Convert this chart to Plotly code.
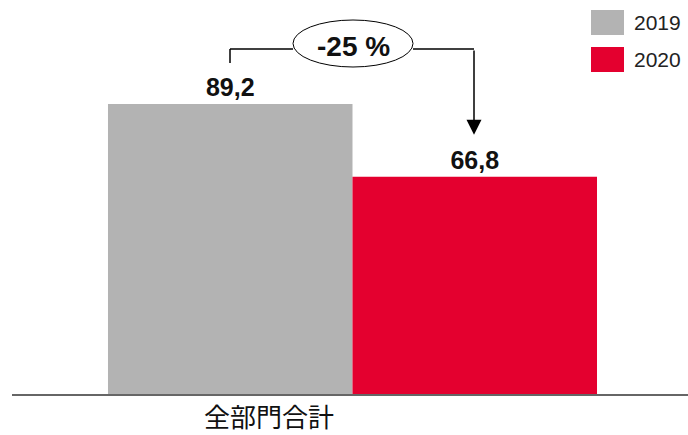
import plotly.graph_objects as go

# ---- data ----
category = ["全部門合計"]
years = ["2019", "2020"]
values_2019 = [89.2]
values_2020 = [66.8]
change_label = "-25 %"
colors = {"2019": "#b3b3b3", "2020": "#e4002f"}

W, H = 688, 435
ML, MR, MT, MB = 12, 0, 0, 41
PW, PH = W - ML - MR, H - MT - MB
YMAX = 121.2


def xp(px):
    return (px - ML) / PW


def yp(py):
    return (H - MB - py) / PH


def py_of(v):
    return (H - MB) - v / YMAX * PH


fig = go.Figure()
for yr, vals in (("2019", values_2019), ("2020", values_2020)):
    fig.add_trace(go.Bar(
        name=yr, x=category, y=vals,
        marker=dict(color=colors[yr], line=dict(width=0)),
        texttemplate="<b>%{y:.1f}</b>", textposition="outside", cliponaxis=False,
        textfont=dict(family="Liberation Sans, Arial", size=25, color="#111111"),
        showlegend=False,
    ))

font_main = "Liberation Sans, Arial"
shapes = []
annotations = []

# legend (drawn manually to match swatch sizes)
for i, yr in enumerate(years):
    top = 10 + i * 37
    shapes.append(dict(type="rect", xref="paper", yref="paper",
                       x0=xp(591), x1=xp(624), y0=yp(top + 25), y1=yp(top),
                       fillcolor=colors[yr], line=dict(width=0)))
    annotations.append(dict(xref="paper", yref="paper", x=xp(632), y=yp(top + 12.5),
                            text=yr, showarrow=False, xanchor="left", yanchor="middle",
                            font=dict(family=font_main, size=21, color="#222222")))

# connector from 2019 bar to 2020 bar
x_left, x_right = 230, 474
y_top = 49
y_left_bottom = py_of(values_2019[0]) - 41
y_tip = py_of(values_2020[0]) - 42
ell_x0, ell_x1, ell_y0, ell_y1 = 293, 413, 20, 67
line_style = dict(color="#000000", width=1.5)
shapes += [
    dict(type="line", xref="paper", yref="paper", x0=xp(x_left), x1=xp(x_left),
         y0=yp(y_left_bottom), y1=yp(y_top), line=line_style),
    dict(type="line", xref="paper", yref="paper", x0=xp(x_left), x1=xp(ell_x0),
         y0=yp(y_top), y1=yp(y_top), line=line_style),
    dict(type="line", xref="paper", yref="paper", x0=xp(ell_x1), x1=xp(x_right),
         y0=yp(y_top), y1=yp(y_top), line=line_style),
    dict(type="circle", xref="paper", yref="paper", x0=xp(ell_x0), x1=xp(ell_x1),
         y0=yp(ell_y1), y1=yp(ell_y0), fillcolor="white",
         line=dict(color="#000000", width=1)),
]
annotations.append(dict(xref="paper", yref="paper", x=xp(x_right), y=yp(y_tip),
                        ax=0, ay=-(y_tip - y_top), axref="pixel", ayref="pixel",
                        text="", showarrow=True, arrowhead=2, arrowsize=2,
                        arrowwidth=1.5, arrowcolor="#000000"))
annotations.append(dict(xref="paper", yref="paper", x=xp((ell_x0 + ell_x1) / 2),
                        y=yp(47), text="<b>" + change_label + "</b>",
                        showarrow=False, xanchor="center", yanchor="middle",
                        font=dict(family=font_main, size=28, color="#111111")))

# category label
annotations.append(dict(xref="paper", yref="paper", x=xp(268.5), y=yp(435),
                        text=category[0], showarrow=False, xanchor="center",
                        yanchor="bottom", borderpad=0,
                        font=dict(family="Noto Sans CJK JP", size=26, color="#111111")))

fig.update_layout(
    width=W, height=H,
    margin=dict(l=ML, r=MR, t=MT, b=MB),
    paper_bgcolor="white", plot_bgcolor="white",
    barmode="group", bargap=0.2766, bargroupgap=0,
    separators=",.",
    shapes=shapes, annotations=annotations,
    xaxis=dict(range=[-0.5037, 0.4963], showticklabels=False, ticks="",
               showline=True, linecolor="#666666", linewidth=2, showgrid=False,
               zeroline=False),
    yaxis=dict(range=[0, YMAX], visible=False, showgrid=False, zeroline=False),
    showlegend=False,
)

fig.write_html("out.html", config={"displayModeBar": False},
               post_script="document.body.style.margin='0';document.body.style.overflow='hidden';")
